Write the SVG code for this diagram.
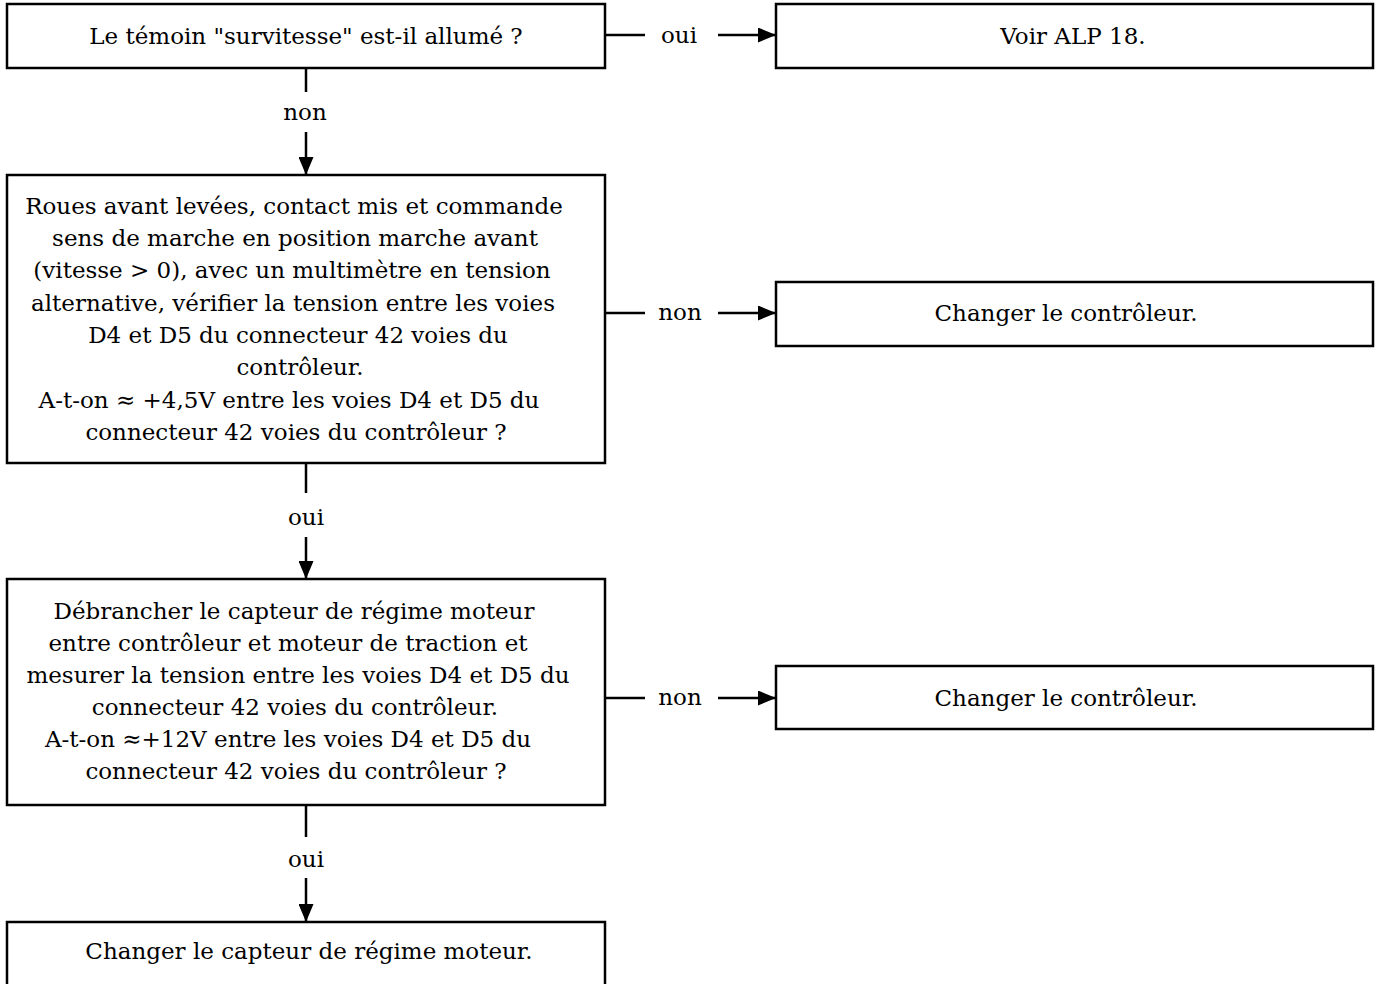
<svg xmlns="http://www.w3.org/2000/svg" width="1383" height="984" viewBox="0 0 1383 984">
<style>
.box{fill:#fff;stroke:#000;stroke-width:2.5}
.t{font-family:"DejaVu Serif",serif;font-size:23px;fill:#000;text-anchor:middle}
.c{stroke:#000;stroke-width:2.5;fill:none}
</style>
<defs>
<marker id="ah" markerUnits="userSpaceOnUse" markerWidth="18" markerHeight="15" refX="18" refY="7.5" orient="auto">
<path d="M0,0 L18,7.5 L0,15 z" fill="#000"/>
</marker>
</defs>
<rect width="1383" height="984" fill="#fff"/>
<g id="connectors">
<line class="c" x1="605" y1="35" x2="645" y2="35"/>
<text class="t" x="679" y="43">oui</text>
<line class="c" x1="718" y1="35" x2="776" y2="35" marker-end="url(#ah)"/>
<line class="c" x1="306" y1="68" x2="306" y2="92"/>
<text class="t" x="305" y="120">non</text>
<line class="c" x1="306" y1="132" x2="306" y2="175" marker-end="url(#ah)"/>
<line class="c" x1="605" y1="313" x2="645" y2="313"/>
<text class="t" x="680" y="320">non</text>
<line class="c" x1="718" y1="313" x2="776" y2="313" marker-end="url(#ah)"/>
<line class="c" x1="306" y1="463" x2="306" y2="493"/>
<text class="t" x="306" y="525">oui</text>
<line class="c" x1="306" y1="537" x2="306" y2="579" marker-end="url(#ah)"/>
<line class="c" x1="605" y1="698" x2="645" y2="698"/>
<text class="t" x="680" y="705">non</text>
<line class="c" x1="718" y1="698" x2="776" y2="698" marker-end="url(#ah)"/>
<line class="c" x1="306" y1="805" x2="306" y2="837"/>
<text class="t" x="306" y="867">oui</text>
<line class="c" x1="306" y1="878" x2="306" y2="922" marker-end="url(#ah)"/>
</g>
<g id="n1">
<rect class="box" x="7" y="4" width="598" height="64"/>
<text class="t" x="306" y="44">Le témoin "survitesse" est-il allumé ?</text>
</g>
<g id="n2">
<rect class="box" x="776" y="4" width="597" height="64"/>
<text class="t" x="1073" y="44">Voir ALP 18.</text>
</g>
<g id="n3">
<rect class="box" x="7" y="175" width="598" height="288"/>
<text class="t" x="294" y="214">Roues avant levées, contact mis et commande</text>
<text class="t" x="295" y="246">sens de marche en position marche avant</text>
<text class="t" x="292" y="278">(vitesse &gt; 0), avec un multimètre en tension</text>
<text class="t" x="293" y="311">alternative, vérifier la tension entre les voies</text>
<text class="t" x="298" y="343">D4 et D5 du connecteur 42 voies du</text>
<text class="t" x="300" y="375">contrôleur.</text>
<text class="t" x="289" y="408">A-t-on ≈ +4,5V entre les voies D4 et D5 du</text>
<text class="t" x="296" y="440">connecteur 42 voies du contrôleur ?</text>
</g>
<g id="n4">
<rect class="box" x="776" y="282" width="597" height="64"/>
<text class="t" x="1066" y="321">Changer le contrôleur.</text>
</g>
<g id="n5">
<rect class="box" x="7" y="579" width="598" height="226"/>
<text class="t" x="294" y="619">Débrancher le capteur de régime moteur</text>
<text class="t" x="288" y="651">entre contrôleur et moteur de traction et</text>
<text class="t" x="298" y="683">mesurer la tension entre les voies D4 et D5 du</text>
<text class="t" x="295" y="715">connecteur 42 voies du contrôleur.</text>
<text class="t" x="288" y="747">A-t-on ≈+12V entre les voies D4 et D5 du</text>
<text class="t" x="296" y="779">connecteur 42 voies du contrôleur ?</text>
</g>
<g id="n6">
<rect class="box" x="776" y="666" width="597" height="63"/>
<text class="t" x="1066" y="706">Changer le contrôleur.</text>
</g>
<g id="n7">
<rect class="box" x="7" y="922" width="598" height="80"/>
<text class="t" x="309" y="959">Changer le capteur de régime moteur.</text>
</g>
</svg>
